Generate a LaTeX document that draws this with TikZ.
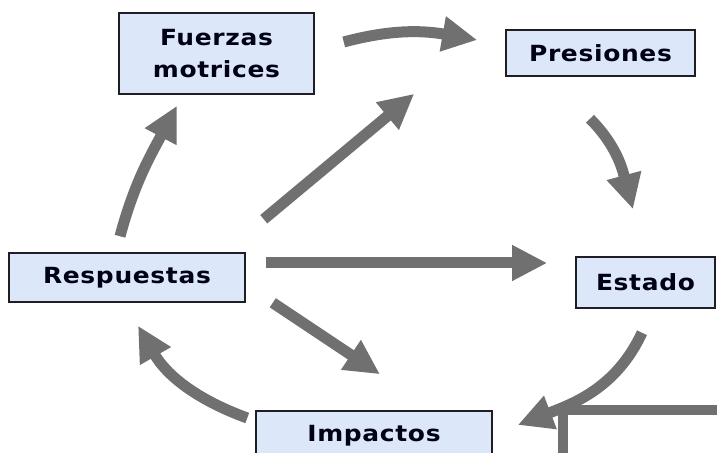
\documentclass[tikz,border=0pt]{standalone}
\usepackage{fontspec}
\setmainfont{DejaVu Sans}
\newfontfamily\boxfont{DejaVu Sans}[LetterSpace=3, FakeStretch=1.12]
\usetikzlibrary{arrows.meta}
\definecolor{boxblue}{RGB}{220,232,250}
\definecolor{boxline}{RGB}{30,30,36}
\definecolor{arrowgrey}{RGB}{112,112,112}
\tikzstyle{stage} = [rectangle, draw = boxline, line width = 0.045cm, fill = boxblue,
	text = black!90!blue, align = center, inner sep = 0pt,
	font = \boxfont\fontsize{19}{27}\selectfont\bfseries]
\tikzstyle{link} = [draw = arrowgrey, line width = 0.33cm,
	-{Triangle[length = 1.05cm, width = 1cm]}]

\begin{document}
\begin{tikzpicture}[x = 0.03cm, y = -0.03cm]

\useasboundingbox (0,0) rectangle (717,453);

\node (fuerzas) [stage, minimum width = 5.85cm, minimum height = 2.43cm]
	at (216.5,53.5) {Fuerzas\\motrices};
\node (presiones) [stage, minimum width = 5.67cm, minimum height = 1.38cm]
	at (600.5,53) {Presiones};
\node (respuestas) [stage, minimum width = 7.08cm, minimum height = 1.47cm]
	at (127,277.5) {Respuestas};
\node (estado) [stage, minimum width = 4.17cm, minimum height = 1.53cm]
	at (645.5,282.5) {Estado};
\node (impactos) [stage, minimum width = 7.08cm, minimum height = 1.47cm]
	at (374,435.5) {Impactos};

% grey frame in the corner
\draw [arrowgrey, line width = 0.3cm] (562.5,480) -- (562.5,410) -- (740,410);

% cycle
\draw [link] ([shift = {(29,-11.5)}]fuerzas.east)
	to [out = 15, in = 170] ([shift = {(-28,-13)}]presiones.west);
\draw [link] ([shift = {(-10.5,42)}]presiones.south)
	to [out = -45, in = 105] ([shift = {(-12.5,-47)}]estado.north);
\draw [link] ([shift = {(-3.5,24)}]estado.south)
	to [out = -115, in = 21] ([shift = {(25,-10.5)}]impactos.east);
\draw [link] ([shift = {(-8,-17.5)}]impactos.west)
	to [out = 160, in = -60] ([shift = {(11,23)}]respuestas.south);
\draw [link] ([shift = {(-7,-16)}]respuestas.north)
	to [out = 75, in = -118] ([shift = {(-39.5,11)}]fuerzas.south);

% from respuestas
\draw [link] ([shift = {(18,-33)}]respuestas.north east)
	-- ([shift = {(-91,17)}]presiones.south west);
\draw [link] ([shift = {(20,-14.5)}]respuestas.east)
	-- ([shift = {(-28,-19.5)}]estado.west);
\draw [link] ([shift = {(27,0)}]respuestas.south east)
	-- ([shift = {(6,-36)}]impactos.north);

\end{tikzpicture}
\end{document}
